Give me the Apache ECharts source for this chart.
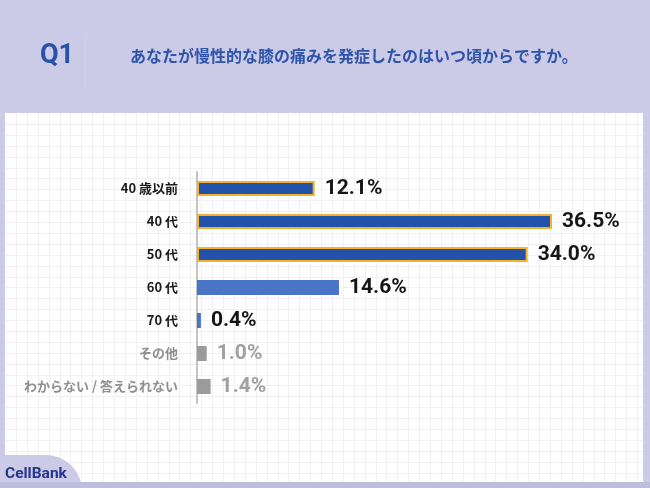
<!DOCTYPE html>
<html><head><meta charset="utf-8">
<script src="https://cdn.jsdelivr.net/npm/echarts@6/dist/echarts.min.js"></script>
<style>html,body{margin:0;padding:0;background:#cbcbe7}#c{width:650px;height:488px}</style>
</head><body><div id="c"></div>
<script>
const categories = ['40 歳以前', '40 代', '50 代', '60 代', '70 代', 'その他', 'わからない / 答えられない'];
const values = [12.1, 36.5, 34.0, 14.6, 0.4, 1.0, 1.4];
const groups = ['top', 'top', 'top', 'mid', 'mid', 'other', 'other'];
const questionNo = 'Q1';
const questionText = 'あなたが慢性的な膝の痛みを発症したのはいつ頃からですか。';

const FONT = 'Roboto, "Noto Sans CJK JP", sans-serif';
const JFONT = '"Noto Sans CJK JP", Roboto, sans-serif';
const styles = {
  top: { color: '#2352aa', borderColor: '#f3b12c', borderWidth: 2, label: '#161616' },
  mid: { color: '#4a74c6', borderColor: '#4a74c6', borderWidth: 0, label: '#161616' },
  other: { color: '#9b9b9b', borderColor: '#9b9b9b', borderWidth: 0, label: '#a0a0a0' }
};

const chart = echarts.init(document.getElementById('c'), null, { renderer: 'canvas' });

const gfx = [];
gfx.push({ type: 'rect', shape: { x: 0, y: 0, width: 650, height: 488 }, style: { fill: '#cbcbe7' }, z: -20 });
gfx.push({ type: 'rect', shape: { x: 5, y: 113, width: 638, height: 369 }, style: { fill: '#ffffff' }, z: -18 });
const step = 10.9;
for (let x = 5 + step; x < 643; x += step) {
  gfx.push({ type: 'line', shape: { x1: Math.round(x) + 0.5, y1: 113, x2: Math.round(x) + 0.5, y2: 482 }, style: { stroke: '#f1f1f5', lineWidth: 1 }, z: -17, silent: true });
}
for (let y = 113 + step; y < 482; y += step) {
  gfx.push({ type: 'line', shape: { x1: 5, y1: Math.round(y) + 0.5, x2: 643, y2: Math.round(y) + 0.5 }, style: { stroke: '#f1f1f5', lineWidth: 1 }, z: -17, silent: true });
}
// logo tab
gfx.push({ type: 'rect', shape: { x: 5, y: 455, width: 77, height: 40, r: [0, 36, 0, 0] }, style: { fill: '#cbcbe7' }, z: -16 });
gfx.push({ type: 'rect', shape: { x: 0, y: 482, width: 650, height: 6 }, style: { fill: '#bdbddc' }, z: -15 });
gfx.push({ type: 'text', style: { text: 'CellBank', x: 5, y: 474, fill: '#27358c', font: 'bold 15.5px ' + FONT, verticalAlign: 'middle', align: 'left' }, z: 5 });
// header
gfx.push({ type: 'text', style: { text: questionNo, x: 40, y: 56, fill: '#2752a8', font: 'bold 27px ' + FONT, verticalAlign: 'middle' }, z: 5 });
gfx.push({ type: 'line', shape: { x1: 85.5, y1: 35, x2: 85.5, y2: 88 }, style: { stroke: '#d0d0ea', lineWidth: 1 }, z: 4 });
gfx.push({ type: 'text', style: { text: questionText, x: 130, y: 56, fill: '#2e54aa', font: 'bold 16px ' + JFONT, verticalAlign: 'middle' }, z: 5 });

chart.setOption({
  animation: false,
  graphic: gfx,
  grid: { left: 197, top: 172, width: 389, height: 231, containLabel: false },
  xAxis: { type: 'value', min: 0, max: 40, show: false },
  yAxis: {
    type: 'category', data: categories, inverse: true,
    axisLine: { show: true, lineStyle: { color: '#c4c4c4', width: 2 } },
    axisTick: { show: false },
    splitLine: { show: false },
    axisLabel: {
      margin: 19,
      formatter: function (v, i) { return (groups[i] === 'other' ? '{g|' : '{b|') + v + '}'; },
      rich: {
        b: { color: '#1a1a1a', fontWeight: 'bold', fontSize: 13, fontFamily: JFONT },
        g: { color: '#8f8f8f', fontWeight: 'bold', fontSize: 13, fontFamily: JFONT }
      }
    }
  },
  series: [{
    type: 'bar',
    barWidth: 15,
    z: 3,
    data: values.map(function (v, i) {
      const s = styles[groups[i]];
      return {
        value: v,
        itemStyle: { color: s.color, borderColor: s.borderColor, borderWidth: s.borderWidth },
        label: { color: s.label }
      };
    }),
    label: {
      show: true, position: 'right', distance: 10,
      fontFamily: FONT, fontWeight: 'bold', fontSize: 21,
      formatter: function (p) { return p.value.toFixed(1) + '%'; }
    }
  }]
});
</script></body></html>
